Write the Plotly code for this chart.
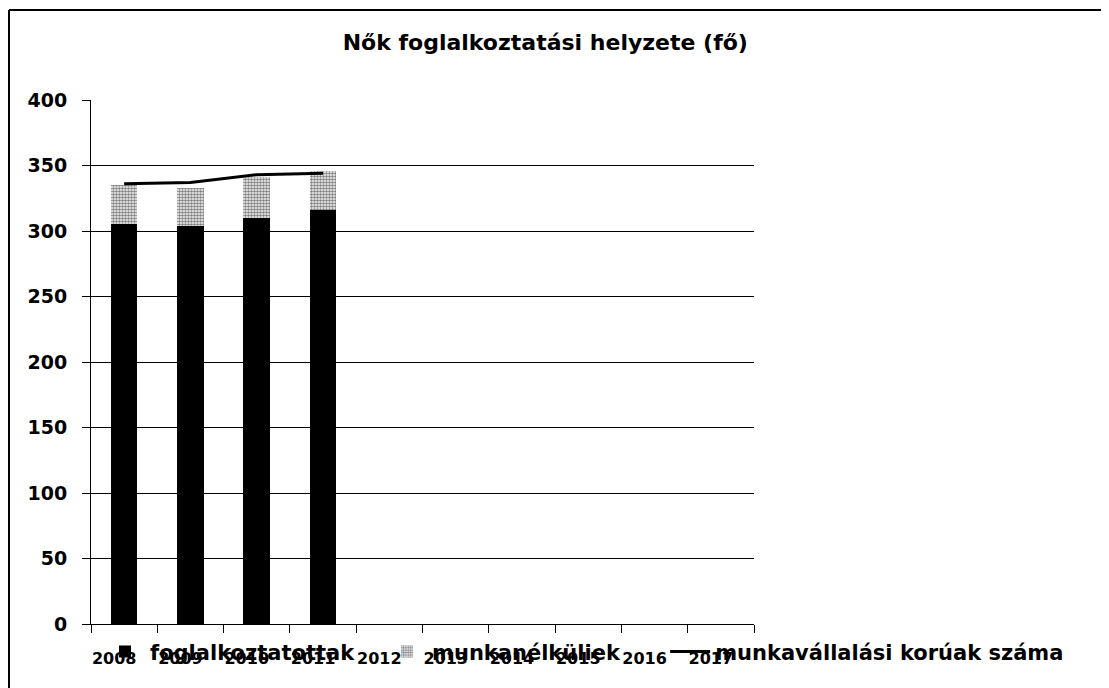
import plotly.graph_objects as go

years = ["2008", "2009", "2010", "2011", "2012", "2013", "2014", "2015", "2016", "2017"]
foglalkoztatottak = [305, 304, 310, 316, None, None, None, None, None, None]
munkanelkuliek = [30, 29, 31, 30, None, None, None, None, None, None]
munkavallalasi_koruak = [336, 337, 343, 344, None, None, None, None, None, None]
y_ticks = [0, 50, 100, 150, 200, 250, 300, 350, 400]

FONT = "DejaVu Sans"

fig = go.Figure()
fig.add_trace(go.Bar(
    x=years, y=foglalkoztatottak, name="<b>foglalkoztatottak</b>",
    marker=dict(color="black", line=dict(width=0)), legend="legend",
))
fig.add_trace(go.Bar(
    x=years, y=munkanelkuliek, name="<b>munkanélküliek</b>",
    marker=dict(color="white", line=dict(width=0),
                pattern=dict(shape=".", fgcolor="black", bgcolor="white",
                             size=3, solidity=0.6)),
    legend="legend2",
))
fig.add_trace(go.Scatter(
    x=years, y=munkavallalasi_koruak, name="<b>munkavállalási korúak száma</b>",
    mode="lines", line=dict(color="black", width=3), legend="legend3",
))

def leg(xpos):
    return dict(orientation="h", x=xpos, xanchor="left", y=-0.053, yanchor="middle",
                font=dict(size=21, family=FONT, color="black"),
                bgcolor="rgba(0,0,0,0)", itemwidth=40)

fig.update_layout(
    width=1101, height=680,
    barmode="stack", bargap=0.6,
    paper_bgcolor="white", plot_bgcolor="white",
    margin=dict(l=83, r=355, t=92, b=64),
    font=dict(family=FONT, color="black"),
    title=dict(text="<b>Nők foglalkoztatási helyzete (fő)</b>",
               x=0.488, xanchor="center", y=0.95, yanchor="middle",
               font=dict(size=22, family=FONT, color="black")),
    showlegend=True,
    legend=leg(0.0136),
    legend2=leg(0.439),
    legend3=leg(0.866),
    xaxis=dict(type="category", categoryorder="array", categoryarray=years,
               range=[-0.5, 9.5],
               showline=True, linecolor="black", linewidth=1,
               ticks="outside", ticklen=8, tickcolor="black", tickson="boundaries",
               showgrid=False, tickfont=dict(size=16, family=FONT, color="black"),
               ticklabelstandoff=20, ticklabelshift=-10,
               tickprefix="<b>", ticksuffix="</b>"),
    yaxis=dict(range=[0, 400], tickvals=y_ticks,
               ticktext=[f"<b>{v}</b>" for v in y_ticks],
               showline=True, linecolor="black", linewidth=1,
               ticks="outside", ticklen=8, tickcolor="black",
               showgrid=True, gridcolor="black", gridwidth=1,
               zeroline=False,
               tickfont=dict(size=19, family=FONT, color="black"),
               ticklabelstandoff=11),
    shapes=[
        dict(type="line", xref="paper", yref="paper",
             x0=-0.1237, x1=1.534, y0=1.1718, y1=1.1718,
             line=dict(color="black", width=2)),
        dict(type="line", xref="paper", yref="paper",
             x0=-0.1237, x1=-0.1237, y0=1.1718, y1=-0.122,
             line=dict(color="black", width=2)),
    ],
)

fig.write_html("out.html")
